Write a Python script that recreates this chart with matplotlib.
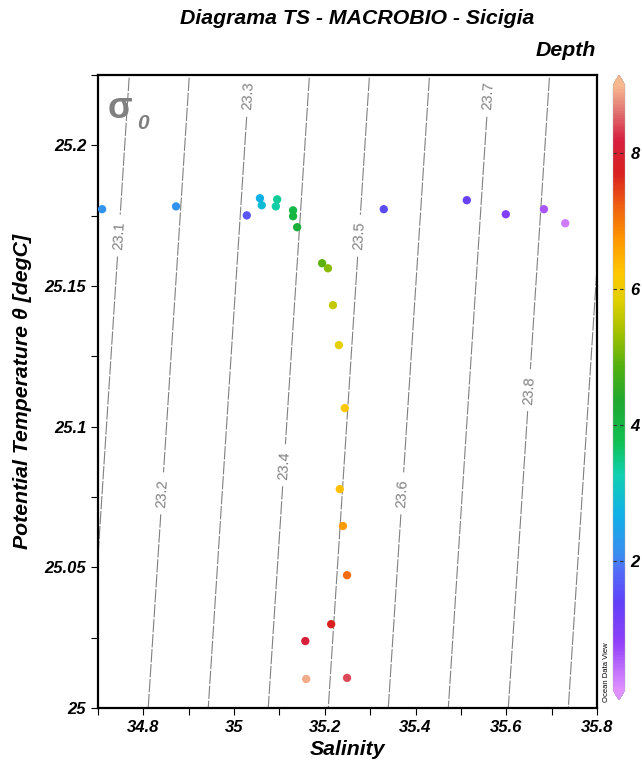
import numpy as np
import matplotlib
matplotlib.use("Agg")
import matplotlib.pyplot as plt
from matplotlib.colors import LinearSegmentedColormap, Normalize
from matplotlib.ticker import MultipleLocator, FuncFormatter

plt.rcParams['font.family'] = ['Liberation Sans', 'DejaVu Sans']

# ---- data ----
salinity = [34.709, 34.872, 35.028, 35.057, 35.061, 35.095, 35.092, 35.130, 35.130,
            35.139, 35.194, 35.207, 35.218, 35.231, 35.244, 35.233, 35.240, 35.249,
            35.214, 35.157, 35.159, 35.249, 35.330, 35.513, 35.599, 35.683, 35.730]
theta = [25.1773, 25.1783, 25.1751, 25.1812, 25.1787, 25.1808, 25.1783, 25.1769, 25.1748,
         25.1709, 25.1581, 25.1563, 25.1432, 25.1290, 25.1066, 25.0778, 25.0647, 25.0472,
         25.0298, 25.0238, 25.0103, 25.0107, 25.1773, 25.1805, 25.1755, 25.1773, 25.1723]
depth = [2.2, 2.2, 1.6, 2.7, 2.9, 3.4, 3.3, 3.9, 4.0,
         4.2, 4.9, 5.2, 5.6, 5.9, 6.2, 6.3, 6.7, 7.1,
         7.7, 8.1, 8.9, 8.4, 1.5, 1.3, 1.0, 0.6, 0.3]

plain_levels = [23.0, 23.9, 24.0]
label_levels = [23.1, 23.2, 23.3, 23.4, 23.5, 23.6, 23.7, 23.8]
label_pos = [(34.7485, 25.1679), (34.8416, 25.0763), (35.0288, 25.2176), (35.1081, 25.0863),
             (35.2734, 25.1679), (35.3704, 25.0763), (35.5599, 25.2176), (35.6481, 25.1130)]

x_ticks = [34.8, 35.0, 35.2, 35.4, 35.6, 35.8]
y_ticks = [25.0, 25.05, 25.1, 25.15, 25.2]
cbar_ticks = [0, 2, 4, 6, 8]

# ODV-like colour map
cmap_nodes = [(0.0, '#e090ff'), (0.7, '#9040f8'), (1.3, '#6040f8'), (1.8, '#5070f8'),
              (2.0, '#3a8cf0'), (2.6, '#10b0e8'), (3.2, '#10d0b0'), (3.7, '#10c050'),
              (4.3, '#20a830'), (4.8, '#50b010'), (5.3, '#a0c000'), (5.8, '#e0d000'),
              (6.2, '#ffc800'), (6.7, '#ff9800'), (7.2, '#f06010'), (7.7, '#d82020'),
              (8.2, '#d82040'), (8.6, '#e07070'), (9.0, '#f8b890')]
vmin, vmax = 0.1, 9.0
cmap = LinearSegmentedColormap.from_list(
    'odv', [((v - 0.0) / 9.0, c) for v, c in cmap_nodes])
cmap.set_under('#e090ff')
cmap.set_over('#f8b890')


def sigma0(S, T):
    rw = (999.842594 + 6.793952e-2 * T - 9.095290e-3 * T**2 + 1.001685e-4 * T**3
          - 1.120083e-6 * T**4 + 6.536332e-9 * T**5)
    A = 0.824493 - 4.0899e-3 * T + 7.6438e-5 * T**2 - 8.2467e-7 * T**3 + 5.3875e-9 * T**4
    B = -5.72466e-3 + 1.0227e-4 * T - 1.6546e-6 * T**2
    C = 4.8314e-4
    return rw + A * S + B * S**1.5 + C * S**2 - 1000.0


fig = plt.figure(figsize=(6.42, 7.63), dpi=100)
ax = fig.add_axes([98 / 642, 55 / 763, 499 / 642, 633 / 763])

sg, tg = np.meshgrid(np.linspace(34.6, 35.9, 300), np.linspace(24.98, 25.24, 200))
sig = sigma0(sg, tg)
line_kw = dict(colors='#808080', linewidths=0.8, linestyles=[(0, (12, 1.5))])
ax.contour(sg, tg, sig, levels=plain_levels, **line_kw)
cs = ax.contour(sg, tg, sig, levels=label_levels, **line_kw)
ax.clabel(cs, manual=label_pos, fmt='%.1f', fontsize=10.5,
          colors='#808080', inline=True, inline_spacing=4)

norm = Normalize(vmin=vmin, vmax=vmax)
sc = ax.scatter(salinity, theta, c=depth, cmap=cmap, norm=norm, s=36, edgecolors='none',
                zorder=3)

ax.set_xlim(34.7, 35.8)
ax.set_ylim(25.0, 25.225)
ax.set_xticks(x_ticks)
ax.set_yticks(y_ticks)
ax.xaxis.set_minor_locator(MultipleLocator(0.1))
ax.yaxis.set_minor_locator(MultipleLocator(0.025))
fmt = FuncFormatter(lambda v, p: '%g' % round(v, 3))
ax.xaxis.set_major_formatter(fmt)
ax.yaxis.set_major_formatter(fmt)
ax.tick_params(which='both', direction='out', length=5, width=0.8, top=False, right=False)
for lab in ax.get_xticklabels() + ax.get_yticklabels():
    lab.set_fontweight('bold')
    lab.set_fontstyle('italic')
    lab.set_fontsize(12)
for sp in ax.spines.values():
    sp.set_linewidth(1.6)

ax.set_xlabel('Salinity', fontsize=15.3, fontweight='bold', fontstyle='italic', labelpad=4)
ax.set_ylabel('Potential Temperature θ [degC]', fontsize=15.3, fontweight='bold',
              fontstyle='italic', labelpad=9)

ax.text(0.02, 0.975, 'σ', transform=ax.transAxes,
        fontsize=26, color='#808080', ha='left', va='top', fontweight='bold')
ax.text(0.078, 0.938, '0', transform=ax.transAxes,
        fontsize=15, color='#808080', ha='left', va='top', fontweight='bold',
        fontstyle='italic')

fig.text(357 / 642, 1 - 18 / 763, 'Diagrama TS - MACROBIO - Sicigia', ha='center',
         va='center', fontsize=15.3, fontweight='bold', fontstyle='italic')
fig.text(536 / 642, 1 - 50 / 763, 'Depth', ha='left', va='center', fontsize=15.3,
         fontweight='bold', fontstyle='italic')

cax = fig.add_axes([613 / 642, 63 / 763, 12 / 642, 625 / 763])
cb = fig.colorbar(sc, cax=cax, extend='both', extendfrac=0.016, ticks=cbar_ticks)
cb.outline.set_linewidth(0.3)
cb.outline.set_edgecolor('#b0b0b0')
cax.tick_params(length=0, pad=4)
for t in cbar_ticks[1:]:
    cax.axhline(t, color='#303030', lw=0.8, ls=(0, (3, 3)))
for lab in cax.get_yticklabels():
    lab.set_fontweight('bold')
    lab.set_fontstyle('italic')
    lab.set_fontsize(12)

fig.text(606 / 642, 1 - 672 / 763, 'Ocean Data View', rotation=90, ha='center',
         va='center', fontsize=5.5)

fig.savefig('out.png', dpi=100)
